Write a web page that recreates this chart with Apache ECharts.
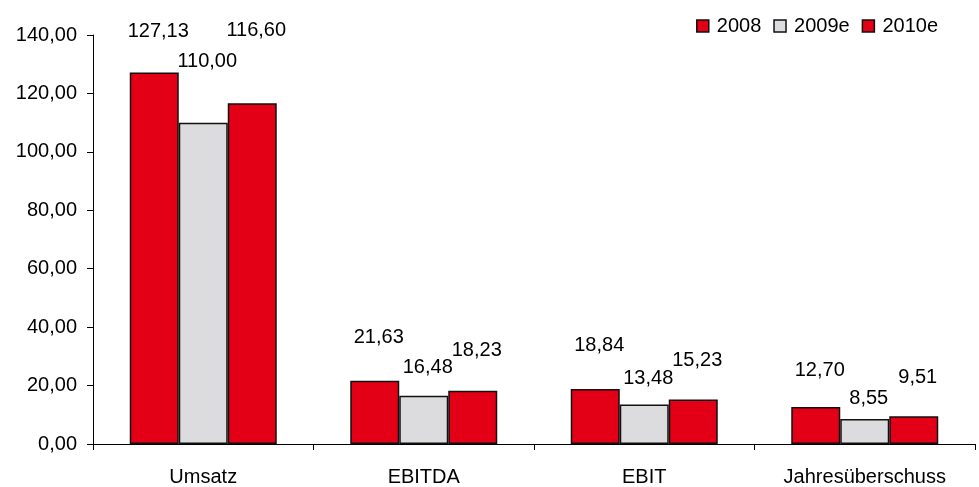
<!DOCTYPE html>
<html>
<head>
<meta charset="utf-8">
<script src="https://cdn.jsdelivr.net/npm/echarts@6/dist/echarts.min.js"></script>
<style>
html, body { margin: 0; padding: 0; background: #fff; }
#chart { width: 979px; height: 487px; }
</style>
</head>
<body>
<div id="chart"></div>
<script>
var categories = ['Umsatz', 'EBITDA', 'EBIT', 'Jahresüberschuss'];
var years = ['2008', '2009e', '2010e'];
var values2008 = [127.13, 21.63, 18.84, 12.70];
var values2009 = [110.00, 16.48, 13.48, 8.55];
var values2010 = [116.60, 18.23, 15.23, 9.51];
var yTicks = [0, 20, 40, 60, 80, 100, 120, 140];

// label lift above each bar, roughly as in the picture
var lift2008 = [31, 33, 33, 26];
var lift2009 = [51, 18, 16, 11];
var lift2010 = [63, 30, 29, 29];

var red = '#e30016';
var grey = '#dcdcde';
var font = 'Liberation Sans, Arial, sans-serif';

function fmt(v) {
    return v.toFixed(2).replace('.', ',');
}

function withLabels(values, lifts) {
    return values.map(function (v, i) {
        return {value: v, label: {distance: lifts[i]}};
    });
}

function makeSeries(name, values, lifts, color) {
    return {
        name: name,
        type: 'bar',
        barWidth: 49,
        barGap: '0%',
        data: withLabels(values, lifts),
        itemStyle: {color: color, borderColor: '#111', borderWidth: 1.5},
        label: {
            show: true,
            position: 'top',
            color: '#000',
            fontFamily: font,
            fontSize: 20,
            offset: [4, 0],
            formatter: function (p) { return fmt(p.value); }
        }
    };
}

var myChart = echarts.init(document.getElementById('chart'));
var option = {
    animation: false,
    backgroundColor: '#fff',
    legend: {
        data: years,
        right: 36,
        top: 11,
        itemWidth: 12,
        itemHeight: 12,
        itemGap: 12,
        icon: 'rect',
        textStyle: {fontFamily: font, fontSize: 20, color: '#000', padding: [0, 0, 0, 3]},
        itemStyle: {borderColor: '#111', borderWidth: 1.5}
    },
    grid: {left: 93, right: 4, top: 35, bottom: 40, containLabel: false},
    xAxis: {
        type: 'category',
        data: categories,
        axisLine: {lineStyle: {color: '#000', width: 1}},
        axisTick: {show: true, alignWithLabel: false, length: 6, lineStyle: {color: '#000'}},
        axisLabel: {fontFamily: font, fontSize: 20, color: '#000', margin: 23}
    },
    yAxis: {
        type: 'value',
        min: yTicks[0],
        max: yTicks[yTicks.length - 1],
        interval: 20,
        splitLine: {show: false},
        axisLine: {show: true, lineStyle: {color: '#000', width: 1}},
        axisTick: {show: true, length: 6, lineStyle: {color: '#000'}},
        axisLabel: {
            fontFamily: font, fontSize: 20, color: '#000', margin: 16,
            formatter: function (v) { return fmt(v); }
        }
    },
    series: [
        makeSeries(years[0], values2008, lift2008, red),
        makeSeries(years[1], values2009, lift2009, grey),
        makeSeries(years[2], values2010, lift2010, red)
    ]
};
myChart.setOption(option);
</script>
</body>
</html>
